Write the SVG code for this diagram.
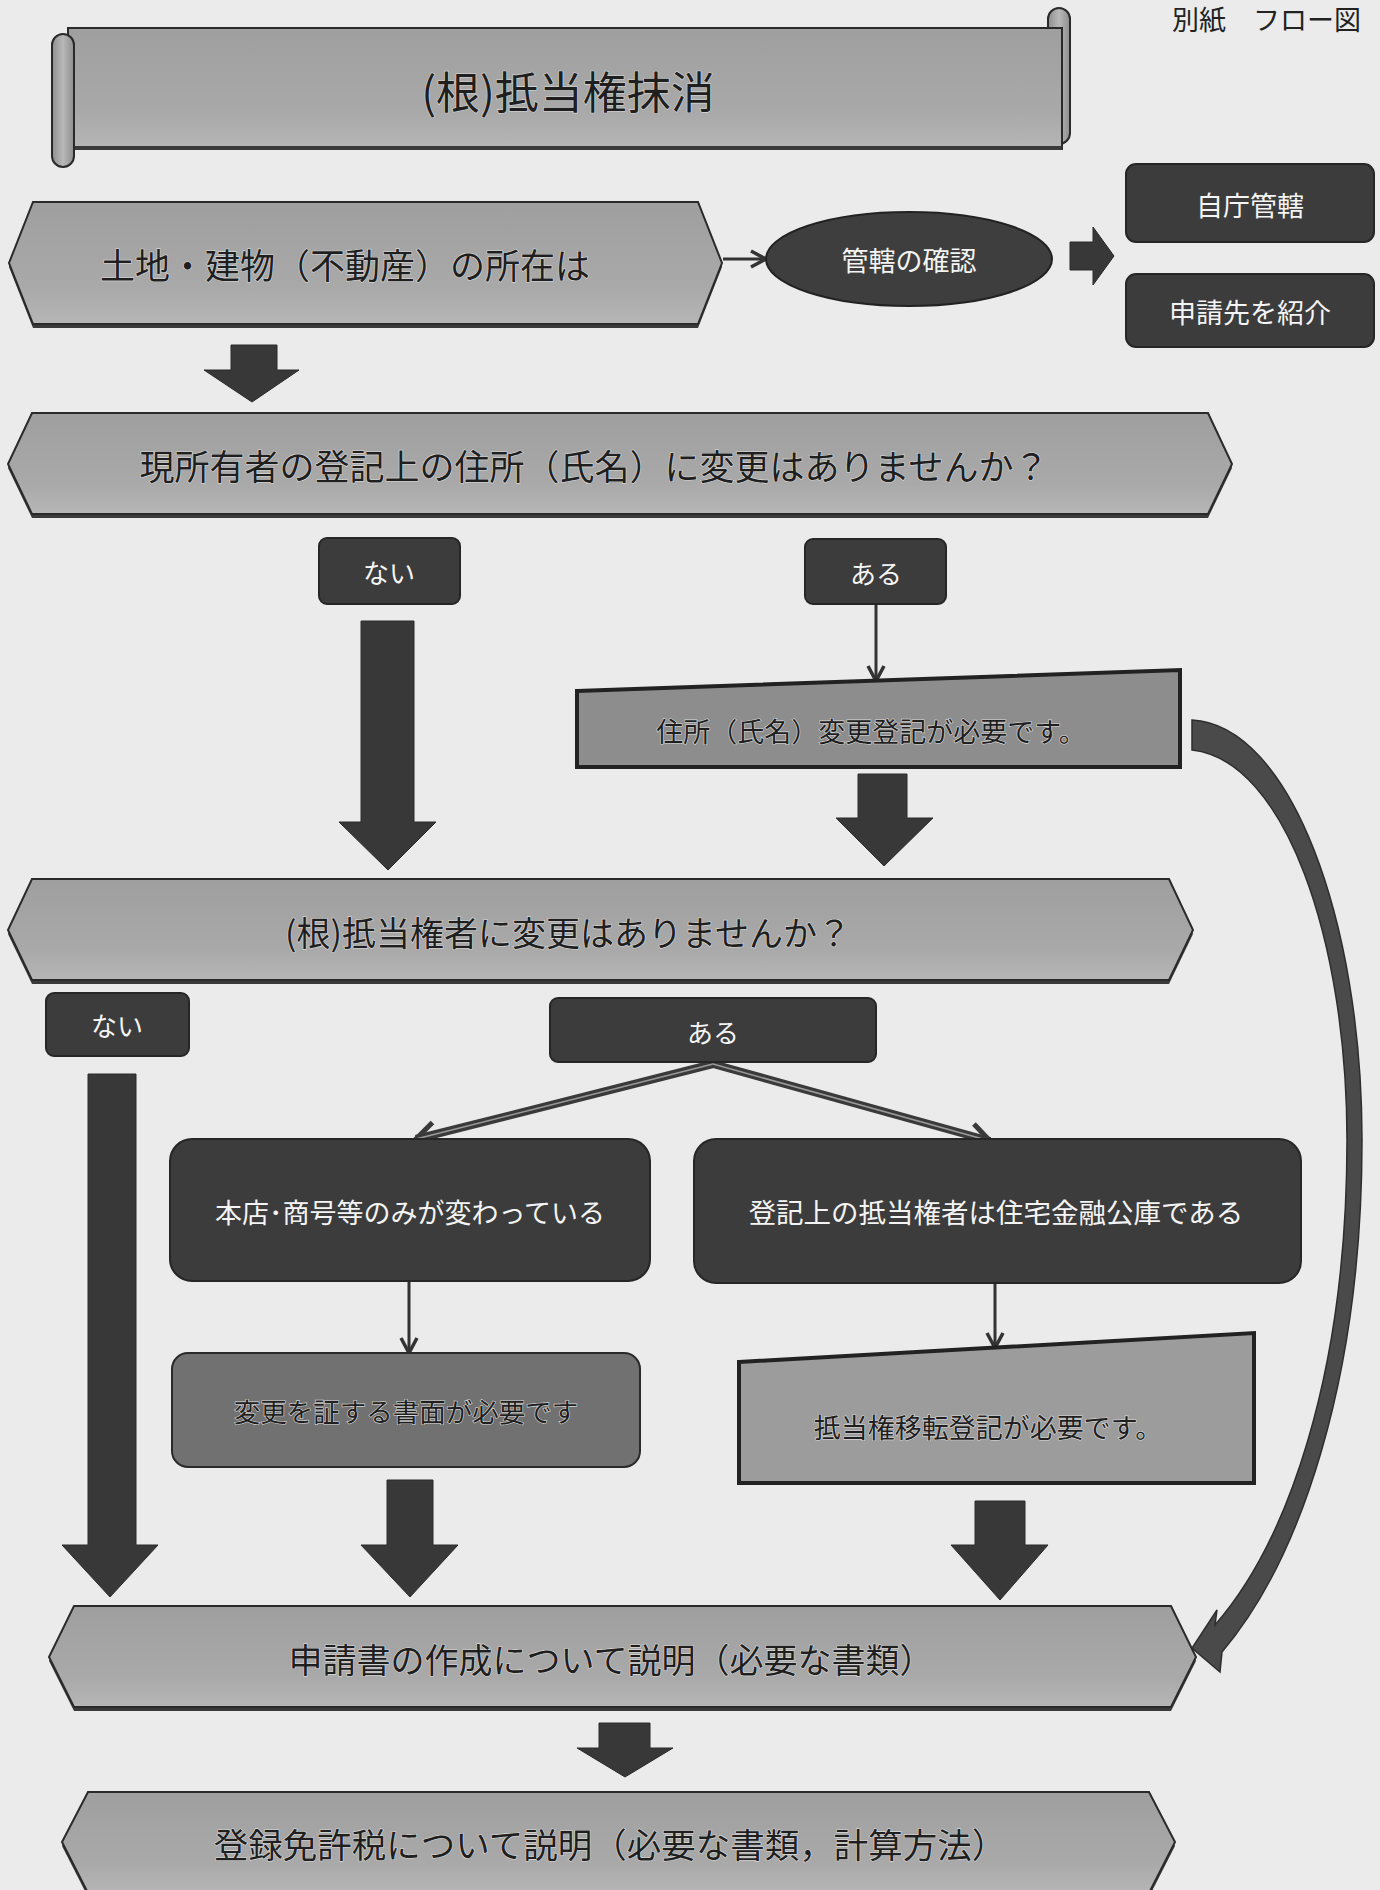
<svg xmlns="http://www.w3.org/2000/svg" width="1380" height="1890" viewBox="0 0 1380 1890">
<style>
  text { font-family: "Noto Sans CJK JP", "Noto Sans", sans-serif; }
  .hex { fill: url(#gHex); stroke: #2a2a2a; stroke-width: 2; }
  .hexsh { fill: #3a3a3a; }
  .dark { fill: #3c3c3c; stroke: #262626; stroke-width: 2; }
  .tl { fill: #1f1f1f; stroke: #d9d9d9; stroke-width: 1.2; paint-order: stroke; text-anchor: middle; dominant-baseline: central; }
  .tw { fill: #f4f4f4; text-anchor: middle; dominant-baseline: central; }
  .blk { fill: #383838; stroke: #2a2a2a; stroke-width: 1; }
  .thin { fill: none; stroke: #333; stroke-width: 3; marker-end: url(#v); }
</style>
<defs>
  <linearGradient id="gHex" x1="0" y1="0" x2="0" y2="1">
    <stop offset="0" stop-color="#9f9f9f"/>
    <stop offset="0.7" stop-color="#a9a9a9"/>
    <stop offset="1" stop-color="#b6b6b6"/>
  </linearGradient>
  <linearGradient id="gRoll" x1="0" y1="0" x2="1" y2="0">
    <stop offset="0" stop-color="#8e8e8e"/>
    <stop offset="0.5" stop-color="#b8b8b8"/>
    <stop offset="1" stop-color="#8e8e8e"/>
  </linearGradient>
  <marker id="v" markerUnits="userSpaceOnUse" viewBox="0 0 20 20" refX="18" refY="10" markerWidth="20" markerHeight="20" orient="auto">
    <path d="M3,2 L18,10 L3,18" fill="none" stroke="#333" stroke-width="3.5"/>
  </marker>
  <marker id="v2" markerUnits="userSpaceOnUse" viewBox="0 0 30 30" refX="26" refY="15" markerWidth="30" markerHeight="30" orient="auto">
    <path d="M6,3 L26,15 L6,27" fill="none" stroke="#3a3a3a" stroke-width="5"/>
  </marker>
</defs>

<rect x="0" y="0" width="1380" height="1890" fill="#ebebeb"/>

<text x="1172" y="30" font-size="27" fill="#222">別紙　フロー図</text>

<!-- Title scroll -->
<g id="title">
  <rect x="1048" y="8" width="22" height="136" rx="11" fill="url(#gRoll)" stroke="#2a2a2a" stroke-width="2"/>
  <rect x="68" y="28" width="994" height="121" fill="url(#gHex)" stroke="#2a2a2a" stroke-width="2"/>
  <rect x="68" y="146" width="994" height="4" fill="#3a3a3a"/>
  <rect x="52" y="34" width="22" height="133" rx="11" fill="url(#gRoll)" stroke="#2a2a2a" stroke-width="2"/>
  <text class="tl" x="568" y="90" font-size="44">(根)抵当権抹消</text>
</g>

<!-- Connectors -->
<g id="connectors">
  <line class="thin" x1="723" y1="259" x2="766" y2="259"/>
  <polygon class="blk" points="1070,242 1093,242 1093,227 1114,256 1093,285 1093,270 1070,270"/>
  <polygon class="blk" points="231,345 277,345 277,370 299,370 252,402 204,370 231,370"/>
  <polygon class="blk" points="361,621 414,621 414,822 436,822 388,870 339,822 361,822"/>
  <line class="thin" x1="876" y1="604" x2="876" y2="681"/>
  <polygon class="blk" points="858,774 907,774 907,818 933,818 884,866 836,818 858,818"/>
  <path d="M1192,720 C1290,725 1362,920 1362,1140 C1362,1380 1300,1560 1222,1652 L1220,1672 L1192,1648 L1217,1610 L1215,1625 C1285,1545 1347,1380 1347,1140 C1347,940 1285,760 1192,750 Z" fill="#4a4a4a" stroke="#2e2e2e" stroke-width="1.5"/>
  <polygon class="blk" points="88,1074 136,1074 136,1545 158,1545 110,1597 62,1545 88,1545"/>
  <line x1="713" y1="1064" x2="416" y2="1139" stroke="#3a3a3a" stroke-width="8" marker-end="url(#v2)"/>
  <line x1="713" y1="1064" x2="416" y2="1139" stroke="#9a9a9a" stroke-width="1.5"/>
  <line x1="713" y1="1064" x2="990" y2="1141" stroke="#3a3a3a" stroke-width="8" marker-end="url(#v2)"/>
  <line x1="713" y1="1064" x2="990" y2="1141" stroke="#9a9a9a" stroke-width="1.5"/>
  <line class="thin" x1="409" y1="1281" x2="409" y2="1353"/>
  <line class="thin" x1="995" y1="1283" x2="995" y2="1348"/>
  <polygon class="blk" points="387,1480 433,1480 433,1545 458,1545 410,1597 361,1545 387,1545"/>
  <polygon class="blk" points="975,1501 1025,1501 1025,1545 1048,1545 1000,1600 951,1545 975,1545"/>
  <polygon class="blk" points="599,1723 650,1723 650,1748 673,1748 625,1777 577,1748 599,1748"/>
</g>

<!-- Nodes -->
<g id="n-location">
  <polygon class="hexsh" points="33,206 698,206 722,267 698,328 33,328 9,267"/>
  <polygon class="hex" points="33,202 698,202 722,263 698,324 33,324 9,263"/>
  <text class="tl" x="345" y="263" font-size="35">土地・建物（不動産）の所在は</text>
</g>
<g id="n-check">
  <ellipse cx="909" cy="259" rx="143" ry="47" fill="#3e3e3e" stroke="#222" stroke-width="2"/>
  <text class="tw" x="909" y="259" font-size="27">管轄の確認</text>
</g>
<g id="n-own">
  <rect class="dark" x="1126" y="164" width="248" height="78" rx="10"/>
  <text class="tw" x="1250" y="204" font-size="27">自庁管轄</text>
</g>
<g id="n-refer">
  <rect class="dark" x="1126" y="274" width="248" height="73" rx="10"/>
  <text class="tw" x="1250" y="311" font-size="27">申請先を紹介</text>
</g>
<g id="n-q1">
  <polygon class="hexsh" points="32,417 1208,417 1232,468 1208,518 32,518 8,468"/>
  <polygon class="hex" points="32,413 1208,413 1232,464 1208,514 32,514 8,464"/>
  <text class="tl" x="594" y="464" font-size="35">現所有者の登記上の住所（氏名）に変更はありませんか？</text>
</g>
<g id="n-no1">
  <rect class="dark" x="319" y="538" width="141" height="66" rx="8"/>
  <text class="tw" x="389" y="571" font-size="26">ない</text>
</g>
<g id="n-yes1">
  <rect class="dark" x="805" y="539" width="141" height="65" rx="8"/>
  <text class="tw" x="876" y="572" font-size="26">ある</text>
</g>
<g id="n-addr">
  <polygon points="577,691 1180,670 1180,767 577,767" fill="#8d8d8d" stroke="#222" stroke-width="4"/>
  <text class="tl" x="871" y="730" font-size="27">住所（氏名）変更登記が必要です。</text>
</g>
<g id="n-q2">
  <polygon class="hexsh" points="32,883 1169,883 1193,934 1169,984 32,984 8,934"/>
  <polygon class="hex" points="32,879 1169,879 1193,930 1169,980 32,980 8,930"/>
  <text class="tl" x="568" y="931" font-size="34">(根)抵当権者に変更はありませんか？</text>
</g>
<g id="n-no2">
  <rect class="dark" x="46" y="993" width="143" height="63" rx="8"/>
  <text class="tw" x="117" y="1024" font-size="26">ない</text>
</g>
<g id="n-yes2">
  <rect class="dark" x="550" y="998" width="326" height="64" rx="8"/>
  <text class="tw" x="713" y="1031" font-size="26">ある</text>
</g>
<g id="n-head">
  <rect class="dark" x="170" y="1139" width="480" height="142" rx="22"/>
  <text class="tw" x="410" y="1211" font-size="27">本店･商号等のみが変わっている</text>
</g>
<g id="n-kouko">
  <rect class="dark" x="694" y="1139" width="607" height="144" rx="22"/>
  <text class="tw" x="996" y="1211" font-size="27.5">登記上の抵当権者は住宅金融公庫である</text>
</g>
<g id="n-doc">
  <rect x="172" y="1353" width="468" height="114" rx="16" fill="#717171" stroke="#2a2a2a" stroke-width="2"/>
  <text class="tl" x="406" y="1410" font-size="26.5">変更を証する書面が必要です</text>
</g>
<g id="n-transfer">
  <polygon points="739,1362 1254,1333 1254,1483 739,1483" fill="#9c9c9c" stroke="#222" stroke-width="4"/>
  <text class="tl" x="988" y="1426" font-size="27">抵当権移転登記が必要です。</text>
</g>
<g id="n-app">
  <polygon class="hexsh" points="74,1610 1171,1610 1196,1661 1171,1711 74,1711 49,1661"/>
  <polygon class="hex" points="74,1606 1171,1606 1196,1657 1171,1707 74,1707 49,1657"/>
  <text class="tl" x="611" y="1658" font-size="34">申請書の作成について説明（必要な書類）</text>
</g>
<g id="n-tax">
  <polygon class="hexsh" points="88,1796 1149,1796 1175,1846 1149,1897 88,1897 62,1846"/>
  <polygon class="hex" points="88,1792 1149,1792 1175,1842 1149,1893 88,1893 62,1842"/>
  <text class="tl" x="610" y="1843" font-size="34.5">登録免許税について説明（必要な書類，計算方法）</text>
</g>
</svg>
